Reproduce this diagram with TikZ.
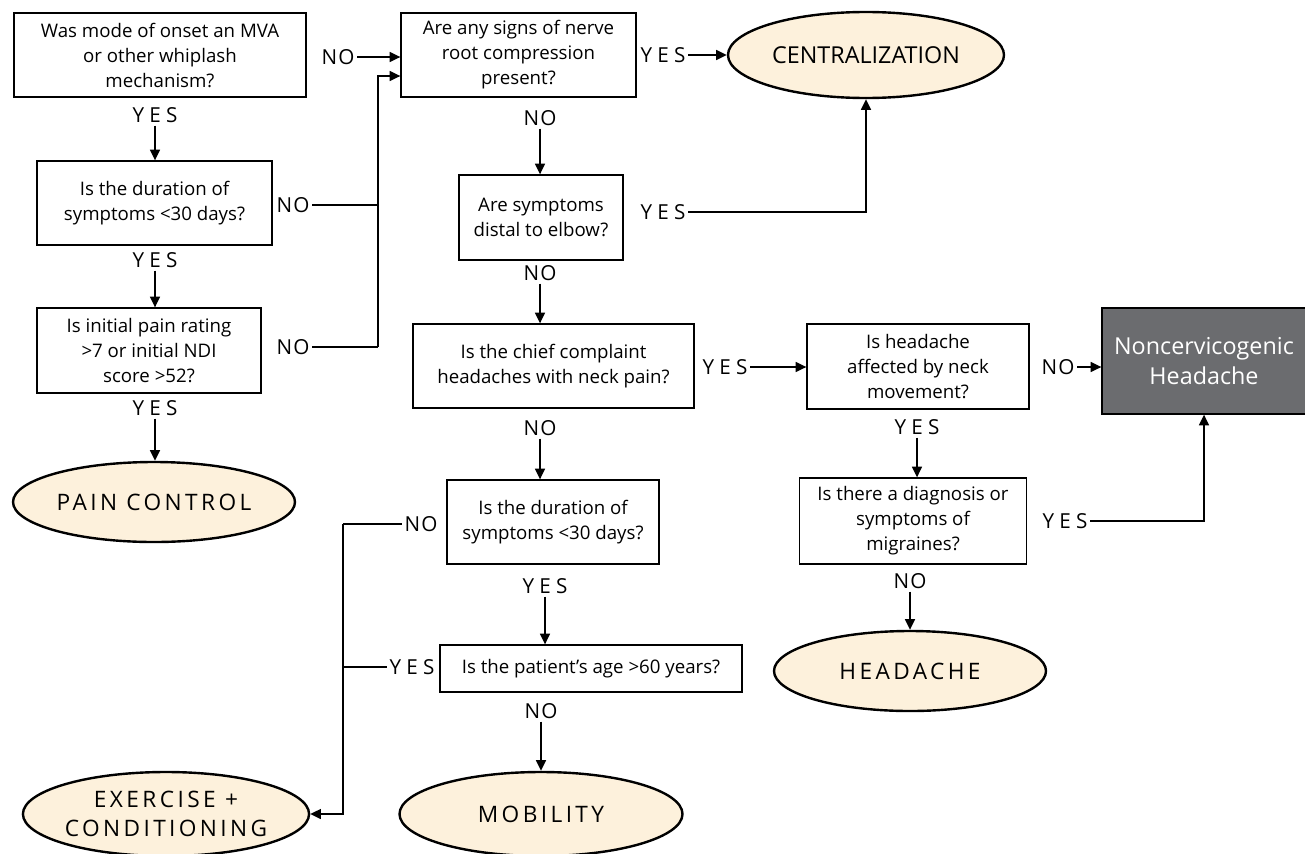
\documentclass[tikz,border=0pt]{standalone}
\usepackage{fontspec}
\setmainfont{Open Sans}
\newfontfamily\spaced[LetterSpace=25]{Open Sans}
\newfontfamily\midspaced[LetterSpace=15]{Open Sans}
\newfontfamily\lightspaced[LetterSpace=6]{Open Sans}
\usetikzlibrary{shapes.geometric}
\usetikzlibrary{arrows.meta}
\definecolor{cream}{HTML}{FDF1DC}
\definecolor{slate}{HTML}{6B6C6F}
\tikzstyle{qbox}=[draw, line width=1pt, align=center, inner sep=0pt, font=\fontsize{14}{18.75}\selectfont]
\tikzstyle{outcome}=[draw, ellipse, fill=cream, line width=1.8pt, inner sep=0pt, align=center, minimum width=211.5pt, minimum height=63pt, font=\midspaced\fontsize{17}{22}\selectfont]
\tikzstyle{darkbox}=[qbox, fill=slate, text=white, font=\fontsize{17.5}{23}\selectfont]
\tikzstyle{lbl}=[inner sep=2pt, font=\spaced\fontsize{15.5}{16}\selectfont]
\tikzstyle{nolbl}=[inner sep=2pt, font=\lightspaced\fontsize{15.5}{16}\selectfont]
\tikzstyle{wire}=[line width=1.1pt]
\tikzstyle{arr}=[wire, -{Triangle[length=8pt,width=7.5pt]}]

\begin{document}
\begin{tikzpicture}[x=0.75pt, y=-0.75pt]
    \useasboundingbox (0,0) rectangle (1305,853);
    \node[qbox, minimum width=219pt, minimum height=63pt] (Q1) at (160,55) {Was mode of onset an MVA\\or other whiplash\\mechanism?};
    \node[qbox, minimum width=176.25pt, minimum height=63pt] (Q2) at (154.5,203) {Is the duration of\\symptoms <30 days?};
    \node[qbox, minimum width=168pt, minimum height=63.75pt] (Q3) at (149,350.5) {Is initial pain rating\\>7 or initial NDI\\score >52?};
    \node[qbox, minimum width=176.25pt, minimum height=63pt] (Q4) at (518.5,55) {Are any signs of nerve\\root compression\\present?};
    \node[qbox, minimum width=123pt, minimum height=63.75pt] (Q5) at (541,217.5) {Are symptoms\\distal to elbow?};
    \node[qbox, minimum width=210.75pt, minimum height=63pt] (Q6) at (553.5,366) {Is the chief complaint\\headaches with neck pain?};
    \node[qbox, minimum width=166.5pt, minimum height=63.75pt] (Q7) at (918,366.5) {Is headache\\affected by neck\\movement?};
    \node[qbox, minimum width=170.25pt, minimum height=64.5pt] (Q8) at (913,521) {Is there a diagnosis or\\symptoms of\\migraines?};
    \node[qbox, minimum width=159pt, minimum height=63pt] (Q9) at (553,522) {Is the duration of\\symptoms <30 days?};
    \node[qbox, minimum width=226.5pt, minimum height=35.25pt] (Q10) at (591,668.5) {Is the patient’s age >60 years?};
    \node[darkbox, minimum width=153pt, minimum height=79.5pt] (NC) at (1204,361) {Noncervicogenic\\Headache};

    \node[outcome, font=\fontsize{17.5}{22}\selectfont, minimum width=207pt, minimum height=64.5pt] (Rc) at (866,55) {CENTRALIZATION};
    \node[outcome, minimum height=60pt] (Pc) at (154,502) {PAIN CONTROL};
    \node[outcome, minimum width=204pt, minimum height=60pt] (Ha) at (910,671) {HEADACHE};
    \node[outcome, minimum width=212.25pt] (Mo) at (541,814) {MOBILITY};
    \node[outcome] (Ex) at (166,814) {EXERCISE +\\CONDITIONING};

    \node[lbl] (y1) at (155,115) {YES};
    \node[lbl] (y2) at (155,260) {YES};
    \node[lbl] (y3) at (155,408) {YES};
    \node[nolbl] (n1) at (338,57) {NO};
    \node[nolbl] (n2) at (293,205) {NO};
    \node[nolbl] (n3) at (293,347) {NO};
    \node[lbl] (y4) at (663,55) {YES};
    \node[nolbl] (n4) at (540,118) {NO};
    \node[lbl] (y5) at (663,212) {YES};
    \node[nolbl] (n5) at (540,273) {NO};
    \node[lbl] (y6) at (725,367) {YES};
    \node[nolbl] (n6) at (540,428) {NO};
    \node[nolbl] (n7) at (1058,367) {NO};
    \node[lbl] (y7) at (917,427) {YES};
    \node[lbl] (y8) at (1065,521) {YES};
    \node[nolbl] (n8) at (910,581) {NO};
    \node[nolbl] (n9) at (421,524) {NO};
    \node[lbl] (y9) at (545,586) {YES};
    \node[lbl] (y10) at (412,667) {YES};
    \node[nolbl] (n10) at (541,711) {NO};

    \coordinate (b1) at (378,76);
    \coordinate (b4) at (343,524);

    \draw[arr] (y1.south) -- (y1.south |- Q2.north);
    \draw[arr] (y2.south) -- (y2.south |- Q3.north);
    \draw[arr] (y3.south) -- (y3.south |- Pc.north);
    \draw[arr] (n1.east) -- (n1.east -| Q4.west);
    \draw[wire] (n2.east) -- (n2.east -| b1);
    \draw[wire] (n3.east) -- (n3.east -| b1);
    \draw[arr] (n3.east -| b1) -- (b1) -- (b1 -| Q4.west);
    \draw[arr] (y4.east) -- (Rc.west);
    \draw[arr] (n4.south) -- (n4.south |- Q5.north);
    \draw[arr] (y5.east) -| (Rc.south);
    \draw[arr] (n5.south) -- (n5.south |- Q6.north);
    \draw[arr] (y6.east) -- (y6.east -| Q7.west);
    \draw[arr] (n7.east) -- (n7.east -| NC.west);
    \draw[arr] (y7.south) -- (y7.south |- Q8.north);
    \draw[arr] (y8.east) -| (NC.south);
    \draw[arr] (n8.south) -- (Ha.north);
    \draw[arr] (n6.south) -- (n6.south |- Q9.north);
    \draw[wire] (n9.west) -- (b4);
    \draw[arr] (b4) |- (Ex.east);
    \draw[arr] (y9.south) -- (y9.south |- Q10.north);
    \draw[wire] (y10.west) -- (y10.west -| b4);
    \draw[arr] (n10.south) -- (Mo.north);
\end{tikzpicture}
\end{document}
